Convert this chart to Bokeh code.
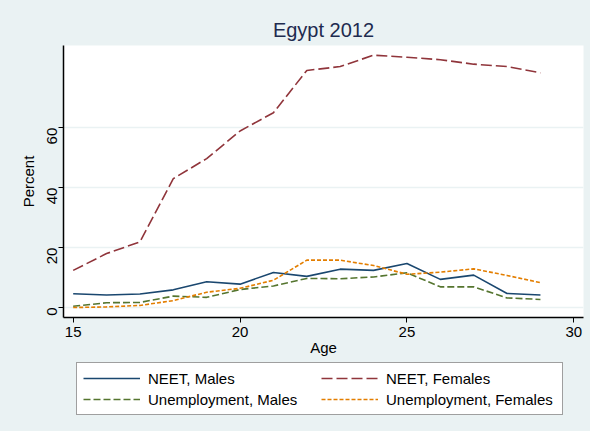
from bokeh.embed import file_html
from bokeh.layouts import column
from bokeh.models import FixedTicker, Legend, LegendItem, Range1d
from bokeh.plotting import figure
from bokeh.resources import INLINE

ages = [15, 16, 17, 18, 19, 20, 21, 22, 23, 24, 25, 26, 27, 28, 29]
neet_males = [4.6, 4.2, 4.5, 5.9, 8.6, 7.8, 11.7, 10.4, 12.8, 12.4, 14.7, 9.4, 10.8, 4.7, 4.2]
neet_females = [12.4, 18.0, 21.9, 43.0, 49.7, 58.9, 65.0, 79.1, 80.4, 84.2, 83.5, 82.7, 81.2, 80.4, 78.3]
unemp_males = [0.4, 1.6, 1.7, 3.8, 3.4, 6.0, 7.2, 9.7, 9.6, 10.2, 11.6, 6.9, 6.9, 3.2, 2.7]
unemp_females = [0.0, 0.2, 0.7, 2.3, 5.1, 6.4, 9.1, 15.8, 15.8, 14.0, 11.1, 11.8, 12.9, 10.7, 8.3]

x_ticks = [15, 20, 25, 30]
y_ticks = [0, 20, 40, 60]

FONT = "Liberation Sans"
BG = "#eaf2f3"

series = [
    ("NEET, Males", neet_males, "#1a476f", "solid"),
    ("NEET, Females", neet_females, "#90353b", "11 4"),
    ("Unemployment, Males", unemp_males, "#55752f", "7 3"),
    ("Unemployment, Females", unemp_females, "#e37e00", "4 2"),
]

p = figure(
    width=590,
    height=358,
    title="Egypt 2012",
    x_axis_label="Age",
    y_axis_label="Percent",
    x_range=Range1d(14.71, 30.29),
    y_range=Range1d(-3.33, 87.43),
    output_backend="svg",
    toolbar_location=None,
    min_border_left=63,
    min_border_right=7,
    min_border_top=45,
    min_border_bottom=41,
)
p.border_fill_color = BG
p.background_fill_color = "white"
p.outline_line_color = None

p.title.align = "center"
p.title.text_font = FONT
p.title.text_font_size = "20px"
p.title.text_font_style = "normal"
p.title.text_color = "#1e2b4f"

for ax in (p.xaxis[0], p.yaxis[0]):
    ax.axis_line_color = "black"
    ax.axis_line_width = 1.5
    ax.major_tick_line_color = "black"
    ax.major_tick_line_width = 1
    ax.major_tick_out = 5
    ax.major_tick_in = 0
    ax.minor_tick_line_color = None
    ax.major_label_text_font = FONT
    ax.major_label_text_font_size = "15px"
    ax.major_label_text_color = "black"
    ax.axis_label_text_font = FONT
    ax.axis_label_text_font_size = "15px"
    ax.axis_label_text_font_style = "normal"
    ax.axis_label_text_color = "black"

p.xaxis.ticker = FixedTicker(ticks=x_ticks)
p.yaxis.ticker = FixedTicker(ticks=y_ticks)
p.yaxis.major_label_orientation = 1.5708
p.xaxis.major_label_standoff = 4
p.xaxis.axis_label_standoff = -1
p.yaxis.major_label_standoff = 6
p.yaxis.axis_label_standoff = 3

p.xgrid.grid_line_color = None
p.ygrid.ticker = FixedTicker(ticks=y_ticks)
p.ygrid.grid_line_color = BG
p.ygrid.grid_line_width = 1.5

for label, vals, color, dash in series:
    p.line(ages, vals, line_color=color, line_width=1.6, line_dash=dash)

# legend lives in its own strip under the chart; its frame lines up with the chart's
pl = figure(
    width=590,
    height=73,
    x_range=Range1d(0, 1),
    y_range=Range1d(0, 1),
    x_axis_location=None,
    y_axis_location=None,
    output_backend="svg",
    toolbar_location=None,
    min_border=0,
)
pl.border_fill_color = None
pl.background_fill_color = None
pl.outline_line_color = None
pl.grid.grid_line_color = None

items = {}
for label, vals, color, dash in series:
    # same series, outside this strip's ranges, only feeding the legend glyphs
    r = pl.line(ages, vals, line_color=color, line_width=1.6, line_dash=dash)
    items[label] = LegendItem(label=label, renderers=[r])

legend = Legend(
    items=[items["NEET, Males"], items["Unemployment, Males"],
           items["NEET, Females"], items["Unemployment, Females"]],
    ncols=2,
    location=(13, 16),
    padding=6,
    spacing=3,
    margin=0,
    label_width=170,
    label_height=18,
    glyph_width=57,
    glyph_height=18,
    label_standoff=8,
    label_text_font=FONT,
    label_text_font_size="15px",
    label_text_color="black",
    border_line_color="#404040",
    border_line_width=1,
    background_fill_color="white",
    background_fill_alpha=1,
)
pl.add_layout(legend, "center")

layout = column(p, pl, spacing=0, styles={"background-color": BG})
open("out.html", "w").write(file_html(layout, INLINE))
